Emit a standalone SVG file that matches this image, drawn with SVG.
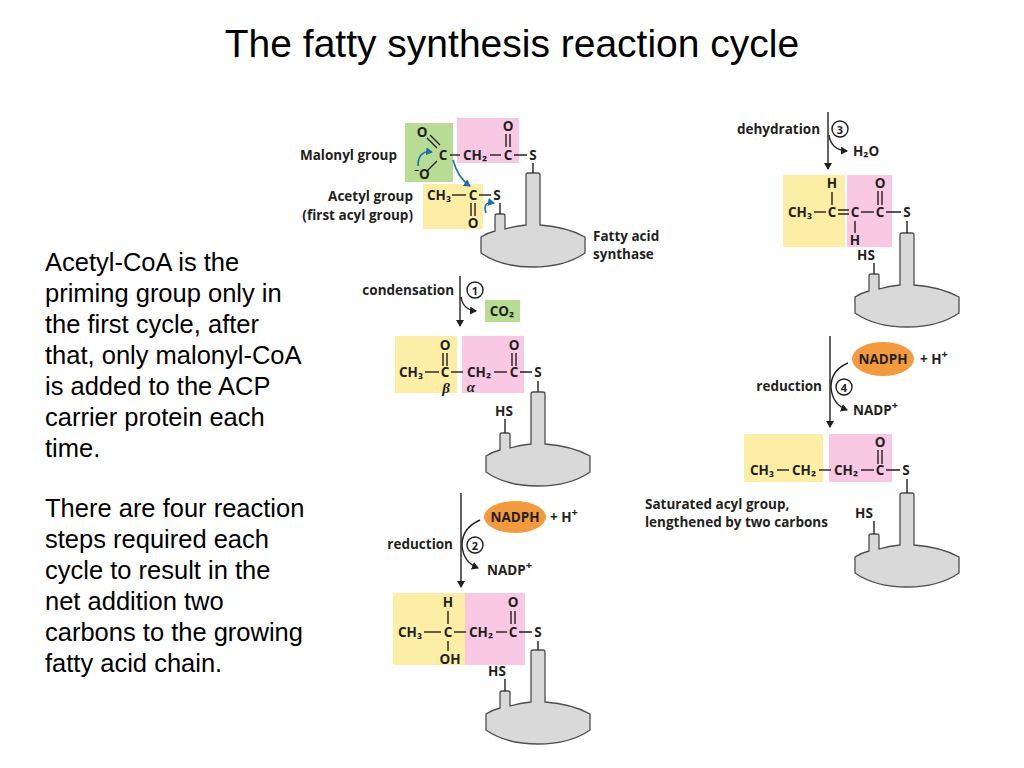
<svg xmlns="http://www.w3.org/2000/svg" width="1024" height="768" viewBox="0 0 1024 768">
<style>
.t{font-family:"Liberation Sans",Arial,sans-serif;font-size:25.5px;fill:#000}
.c{font-family:"Open Sans","Noto Sans","DejaVu Sans",sans-serif;font-weight:700;font-size:13.5px;fill:#231f20}
.m{text-anchor:middle}
.e{text-anchor:end}
.b{stroke:#231f20;stroke-width:1.4;fill:none}
.ar{stroke:#231f20;stroke-width:1.4;fill:none}
.y{fill:#fdeea6}.p{fill:#f9c8e2}.g{fill:#b9dc95}
.enz{fill:#d9d9d9;stroke:#4d4d4d;stroke-width:1.3}
.nad{fill:#f39a3c}
.sup{font-size:11px}
</style>
<defs>
<path id="enz" class="enz" d="M -52,64 Q -46,60 -38,58 L -38,43 Q -38,41 -36,41 L -30,41 Q -28,41 -28,43 L -28,56 Q -18,53 -7,52 L -7,2 Q -7,0 -5,0 L 5,0 Q 7,0 7,2 L 7,52 Q 34,54 52,64 L 52,80 Q 32,94 0,94 Q -32,94 -52,80 Z"/>
<marker id="ah" markerWidth="8" markerHeight="8" refX="6" refY="4" orient="auto" markerUnits="userSpaceOnUse"><path d="M0,0 L7,4 L0,8 Z" fill="#231f20"/></marker>
<marker id="bh" markerWidth="8" markerHeight="8" refX="6" refY="4" orient="auto" markerUnits="userSpaceOnUse"><path d="M0,0 L7,4 L0,8 Z" fill="#1a6fa8"/></marker>
</defs>
<rect width="1024" height="768" fill="#fff"/>
<text class="t m" x="512" y="57" style="font-size:39px">The fatty synthesis reaction cycle</text>
<g id="notes">
<text class="t" x="45" y="271">Acetyl-CoA is the</text>
<text class="t" x="45" y="302">priming group only in</text>
<text class="t" x="45" y="333">the first cycle, after</text>
<text class="t" x="45" y="364">that, only malonyl-CoA</text>
<text class="t" x="45" y="395">is added to the ACP</text>
<text class="t" x="45" y="426">carrier protein each</text>
<text class="t" x="45" y="457">time.</text>
<text class="t" x="45" y="517">There are four reaction</text>
<text class="t" x="45" y="548">steps required each</text>
<text class="t" x="45" y="579">cycle to result in the</text>
<text class="t" x="45" y="610">net addition two</text>
<text class="t" x="45" y="641">carbons to the growing</text>
<text class="t" x="45" y="672">fatty acid chain.</text>
</g>

<g id="panel0">
<rect class="g" x="405" y="123" width="48" height="59"/>
<rect class="p" x="457" y="118" width="62" height="45"/>
<rect class="y" x="423" y="184" width="60" height="45"/>
<use href="#enz" x="533" y="173"/>
<text class="c e" x="397" y="160">Malonyl group</text>
<text class="c e" x="413" y="201">Acetyl group</text>
<text class="c e" x="413" y="220">(first acyl group)</text>
<text class="c" x="593" y="241">Fatty acid</text>
<text class="c" x="593" y="259">synthase</text>
<text class="c m" x="443" y="160">C</text>
<text class="c m" x="422" y="137">O</text>
<text class="c m" x="422" y="179">⁻O</text>
<path class="b" d="M427,138 L437,148 M430,135 L440,145 M427,171 L437,161"/>
<path class="b" d="M450,155 H460"/>
<text class="c m" x="475" y="160">CH₂</text>
<path class="b" d="M490,155 H501"/>
<text class="c m" x="508" y="160">C</text>
<text class="c m" x="508" y="131">O</text>
<path class="b" d="M506,134 V147 M510,134 V147 M514,155 H527"/>
<text class="c m" x="533" y="160">S</text>
<path class="b" d="M533,163 V173"/>
<text class="c m" x="439" y="200">CH₃</text>
<path class="b" d="M452,195 H466"/>
<text class="c m" x="473" y="200">C</text>
<path class="b" d="M479,195 H491"/>
<text class="c m" x="497" y="200">S</text>
<path class="b" d="M471,203 V216 M475,203 V216"/>
<text class="c m" x="473" y="228">O</text>
<path class="b" d="M500,203 V214"/>
<path d="M418,166 Q418,150 432,152" stroke="#1a6fa8" stroke-width="1.6" fill="none" marker-end="url(#bh)"/>
<path d="M453,160 Q458,178 470,186" stroke="#1a6fa8" stroke-width="1.6" fill="none" marker-end="url(#bh)"/>
<path d="M486,213 Q482,201 494,203" stroke="#1a6fa8" stroke-width="1.6" fill="none" marker-end="url(#bh)"/>
</g>

<g id="connectors">
<path class="ar" d="M460,276 V326" marker-end="url(#ah)"/>
<path class="ar" d="M461,297 Q463,310 476,311" marker-end="url(#ah)"/>
<text class="c e" x="454" y="295">condensation</text>
<circle cx="475" cy="290" r="8" class="b"/>
<text class="c m" x="475" y="295" style="font-size:11px">1</text>
<rect class="g" x="485" y="300" width="35" height="22"/>
<text class="c m" x="502" y="316">CO₂</text>
<path class="ar" d="M461,493 V587" marker-end="url(#ah)"/>
<path class="ar" d="M480,520 Q462,528 462,545 Q463,562 478,568" marker-end="url(#ah)"/>
<text class="c e" x="453" y="549">reduction</text>
<circle cx="475" cy="545" r="8" class="b"/>
<text class="c m" x="475" y="550" style="font-size:11px">2</text>
<ellipse class="nad" cx="515" cy="517" rx="31" ry="16"/>
<text class="c m" x="515" y="522">NADPH</text>
<text class="c" x="550" y="522">+ H<tspan class="sup" dy="-6">+</tspan></text>
<text class="c" x="487" y="575">NADP<tspan class="sup" dy="-6">+</tspan></text>
<path class="ar" d="M828,112 V169" marker-end="url(#ah)"/>
<path class="ar" d="M829,135 Q831,150 847,151" marker-end="url(#ah)"/>
<text class="c e" x="820" y="134">dehydration</text>
<circle cx="840" cy="129" r="8" class="b"/>
<text class="c m" x="840" y="134" style="font-size:11px">3</text>
<text class="c" x="853" y="156">H₂O</text>
<path class="ar" d="M830,336 V427" marker-end="url(#ah)"/>
<path class="ar" d="M848,363 Q831,370 831,387 Q832,404 847,410" marker-end="url(#ah)"/>
<text class="c e" x="822" y="391">reduction</text>
<circle cx="844" cy="387" r="8" class="b"/>
<text class="c m" x="844" y="392" style="font-size:11px">4</text>
<ellipse class="nad" cx="883" cy="359" rx="31" ry="17"/>
<text class="c m" x="883" y="364">NADPH</text>
<text class="c" x="920" y="364">+ H<tspan class="sup" dy="-6">+</tspan></text>
<text class="c" x="853" y="415">NADP<tspan class="sup" dy="-6">+</tspan></text>
</g>

<g id="panel1">
<rect class="y" x="395" y="336" width="62" height="57"/>
<rect class="p" x="462" y="336" width="62" height="57"/>
<use href="#enz" x="538" y="392"/>
<text class="c m" x="411" y="377">CH₃</text>
<path class="b" d="M425,372 H439"/>
<text class="c m" x="445" y="377">C</text>
<text class="c m" x="445" y="350">O</text>
<path class="b" d="M443,353 V366 M447,353 V366"/>
<path class="b" d="M451,372 H463"/>
<text class="c m" x="479" y="377">CH₂</text>
<path class="b" d="M494,372 H507"/>
<text class="c m" x="514" y="377">C</text>
<text class="c m" x="514" y="350">O</text>
<path class="b" d="M512,353 V366 M516,353 V366 M520,372 H532"/>
<text class="c m" x="538" y="377">S</text>
<path class="b" d="M538,381 V392"/>
<text class="c m" x="446" y="393" style="font-family:'Liberation Serif',serif;font-style:italic;font-size:15px">β</text>
<text class="c m" x="471" y="392" style="font-family:'Liberation Serif',serif;font-style:italic;font-size:15px">α</text>
<text class="c m" x="504" y="416">HS</text>
<path class="b" d="M505,419 V433"/>
</g>

<g id="panel2">
<rect class="y" x="393" y="593" width="72" height="72"/>
<rect class="p" x="465" y="593" width="60" height="72"/>
<use href="#enz" x="538" y="650"/>
<text class="c m" x="410" y="637">CH₃</text>
<path class="b" d="M424,632 H441"/>
<text class="c m" x="448" y="637">C</text>
<text class="c m" x="448" y="607">H</text>
<path class="b" d="M448,611 V624 M448,641 V651"/>
<text class="c m" x="450" y="664">OH</text>
<path class="b" d="M454,632 H466"/>
<text class="c m" x="481" y="637">CH₂</text>
<path class="b" d="M496,632 H507"/>
<text class="c m" x="513" y="637">C</text>
<text class="c m" x="513" y="607">O</text>
<path class="b" d="M511,611 V624 M515,611 V624 M519,632 H532"/>
<text class="c m" x="538" y="637">S</text>
<path class="b" d="M538,641 V650"/>
<text class="c m" x="497" y="676">HS</text>
<path class="b" d="M505,679 V691"/>
</g>

<g id="panel3">
<rect class="y" x="783" y="175" width="62" height="72"/>
<rect class="p" x="847" y="175" width="45" height="72"/>
<use href="#enz" x="907" y="233"/>
<text class="c m" x="800" y="217">CH₃</text>
<path class="b" d="M814,212 H826"/>
<text class="c m" x="832" y="217">C</text>
<text class="c m" x="832" y="188">H</text>
<path class="b" d="M832,192 V205"/>
<path class="b" d="M838,210 H849 M838,214 H849"/>
<text class="c m" x="855" y="217">C</text>
<path class="b" d="M855,221 V233"/>
<text class="c m" x="855" y="245">H</text>
<path class="b" d="M861,212 H874"/>
<text class="c m" x="880" y="217">C</text>
<text class="c m" x="880" y="188">O</text>
<path class="b" d="M878,191 V205 M882,191 V205 M886,212 H901"/>
<text class="c m" x="907" y="217">S</text>
<path class="b" d="M907,221 V233"/>
<text class="c m" x="866" y="260">HS</text>
<path class="b" d="M874,263 V274"/>
</g>

<g id="panel4">
<rect class="y" x="744" y="434" width="79" height="48"/>
<rect class="p" x="829" y="434" width="63" height="48"/>
<use href="#enz" x="907" y="493"/>
<text class="c m" x="762" y="475">CH₃</text>
<path class="b" d="M777,470 H789"/>
<text class="c m" x="804" y="475">CH₂</text>
<path class="b" d="M819,470 H831"/>
<text class="c m" x="846" y="475">CH₂</text>
<path class="b" d="M861,470 H874"/>
<text class="c m" x="880" y="475">C</text>
<text class="c m" x="880" y="447">O</text>
<path class="b" d="M878,450 V464 M882,450 V464 M886,470 H900"/>
<text class="c m" x="906" y="475">S</text>
<path class="b" d="M907,479 V493"/>
<text class="c" x="645" y="509">Saturated acyl group,</text>
<text class="c" x="645" y="527">lengthened by two carbons</text>
<text class="c m" x="864" y="518">HS</text>
<path class="b" d="M874,521 V534"/>
</g>
</svg>
